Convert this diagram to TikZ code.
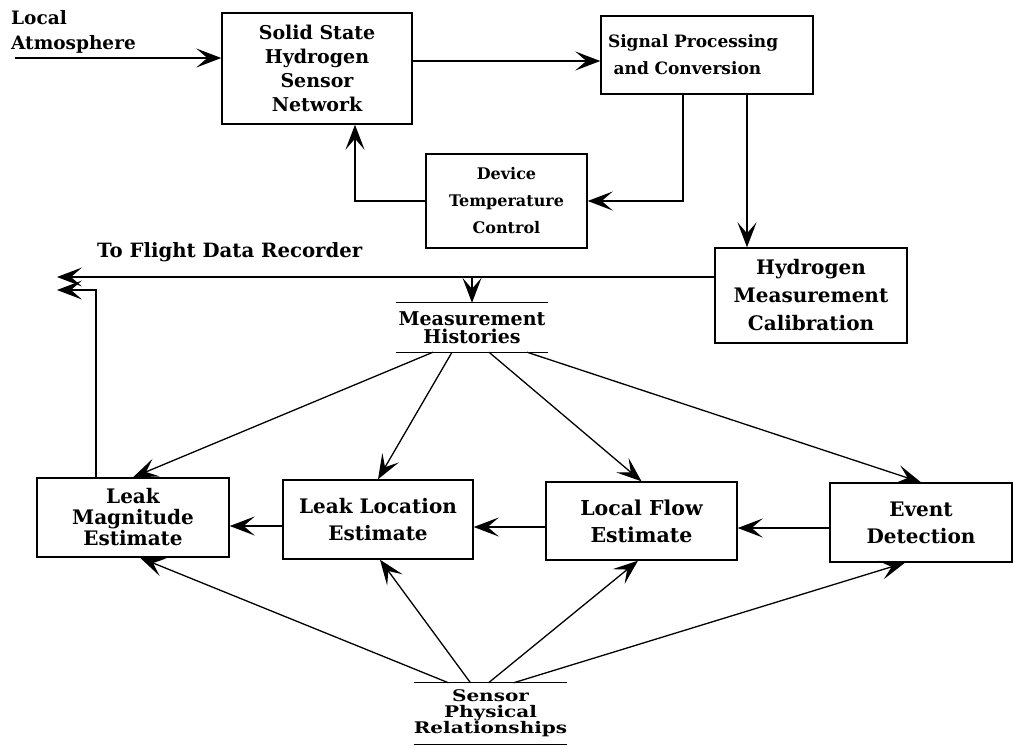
\documentclass[tikz,border=0pt]{standalone}
\usepackage{fontspec}
\setmainfont{DejaVu Serif}
\newfontfamily\widefont{DejaVu Serif}[FakeStretch=1.25]
\usetikzlibrary{arrows.meta}

\newcommand\boxfont[2]{\bfseries\fontsize{#1}{#2}\selectfont}

\tikzset{
  arr/.style={-{Stealth[length=25pt,width=19pt,inset=11pt]},line width=1.3pt},
  blockbox/.style={draw,line width=1.4pt,align=center,inner sep=0pt},
  barbox/.style={align=center,inner sep=0pt},
  plaintext/.style={inner sep=0pt}
}

\begin{document}
\begin{tikzpicture}[x=1pt,y=-1pt]
\useasboundingbox (0,0) rectangle (1014,745);

% sensing loop
\node[plaintext,font=\boxfont{18.5}{25},align=left,anchor=north west] (atmos) at (11,10) {Local\\Atmosphere};
\node[blockbox,font=\boxfont{19}{24},minimum width=190,minimum height=111] (sensor) at (317,68.5) {Solid State\\Hydrogen\\Sensor\\Network};
\node[blockbox,font=\boxfont{17}{27},align=left,text width=198pt,inner xsep=7pt,minimum height=78] (signal) at (707,55) {Signal Processing\\\ and Conversion};
\node[blockbox,font=\boxfont{16}{27},minimum width=161,minimum height=94] (devtemp) at (506.5,201) {Device\\Temperature\\Control};
\node[blockbox,font=\boxfont{20}{28},minimum width=192,minimum height=95] (calib) at (811,295.5) {Hydrogen\\Measurement\\Calibration};

\coordinate (atmosin) at (15,58);
\draw[arr] (atmosin) -- (atmosin -| sensor.west);
\draw[arr] ([yshift=7.5]sensor.east) -- ([yshift=7.5]sensor.east -| signal.west);
\draw[arr] ([xshift=-24]signal.south) |- (devtemp.east);
\draw[arr] (devtemp.west) -| ([xshift=38]sensor.south);
\draw[arr] ([xshift=40]signal.south) -- ([xshift=40]signal.south |- calib.north);

% histories and recorder
\node[barbox,font=\boxfont{19}{18},minimum width=151,minimum height=49] (hist) at (472,327.5) {Measurement\\Histories};
\draw[line width=1.3pt] (hist.north west) -- (hist.north east) (hist.south west) -- (hist.south east);
\node[plaintext,font=\boxfont{19.7}{24},anchor=west] (fdrlabel) at (97,252) {To Flight Data Recorder};

% estimates
\node[blockbox,font=\boxfont{20}{21},minimum width=192,minimum height=79] (magnitude) at (133,517.5) {Leak\\Magnitude\\Estimate};
\node[blockbox,font=\boxfont{20}{27},minimum width=190,minimum height=79] (location) at (378,519.5) {Leak Location\\Estimate};
\node[blockbox,font=\boxfont{20.5}{27},minimum width=191,minimum height=78] (flow) at (641.5,521) {Local Flow\\Estimate};
\node[blockbox,font=\boxfont{20}{27},minimum width=182,minimum height=79] (event) at (921,522.5) {Event\\Detection};

\node[barbox,font=\widefont\boxfont{16}{16},minimum width=153,minimum height=61] (phys) at (490.5,713.5) {Sensor\\Physical\\Relationships};
\draw[line width=1.3pt] (phys.north west) -- (phys.north east) (phys.south west) -- (phys.south east);

\coordinate (fdrtop) at (57,277);
\coordinate (fdrbot) at (57,290);
\draw[arr] ([yshift=18.5]calib.west) -- (fdrtop);
\draw[arr] (fdrtop -| hist.north) -- (hist.north);
\draw[arr] ([xshift=-37]magnitude.north) |- (fdrbot);

\foreach \dx/\b in {-39/magnitude,-20/location,17/flow,55/event}
  \draw[arr] ([xshift=\dx]hist.south) -- (\b.north);

\draw[arr] ([yshift=-5.5]event.west) -- ([yshift=-5.5]event.west -| flow.east);
\draw[arr] ([yshift=-6]flow.west) -- ([yshift=-6]flow.west -| location.east);
\draw[arr] ([yshift=-6.5]location.west) -- ([yshift=-6.5]location.west -| magnitude.east);

\foreach \dx/\dt/\b in {-42/7/magnitude,-20/2/location,-2/-3.5/flow,23/-16/event}
  \draw[arr] ([xshift=\dx]phys.north) -- ([xshift=\dt]\b.south);

\end{tikzpicture}
\end{document}
